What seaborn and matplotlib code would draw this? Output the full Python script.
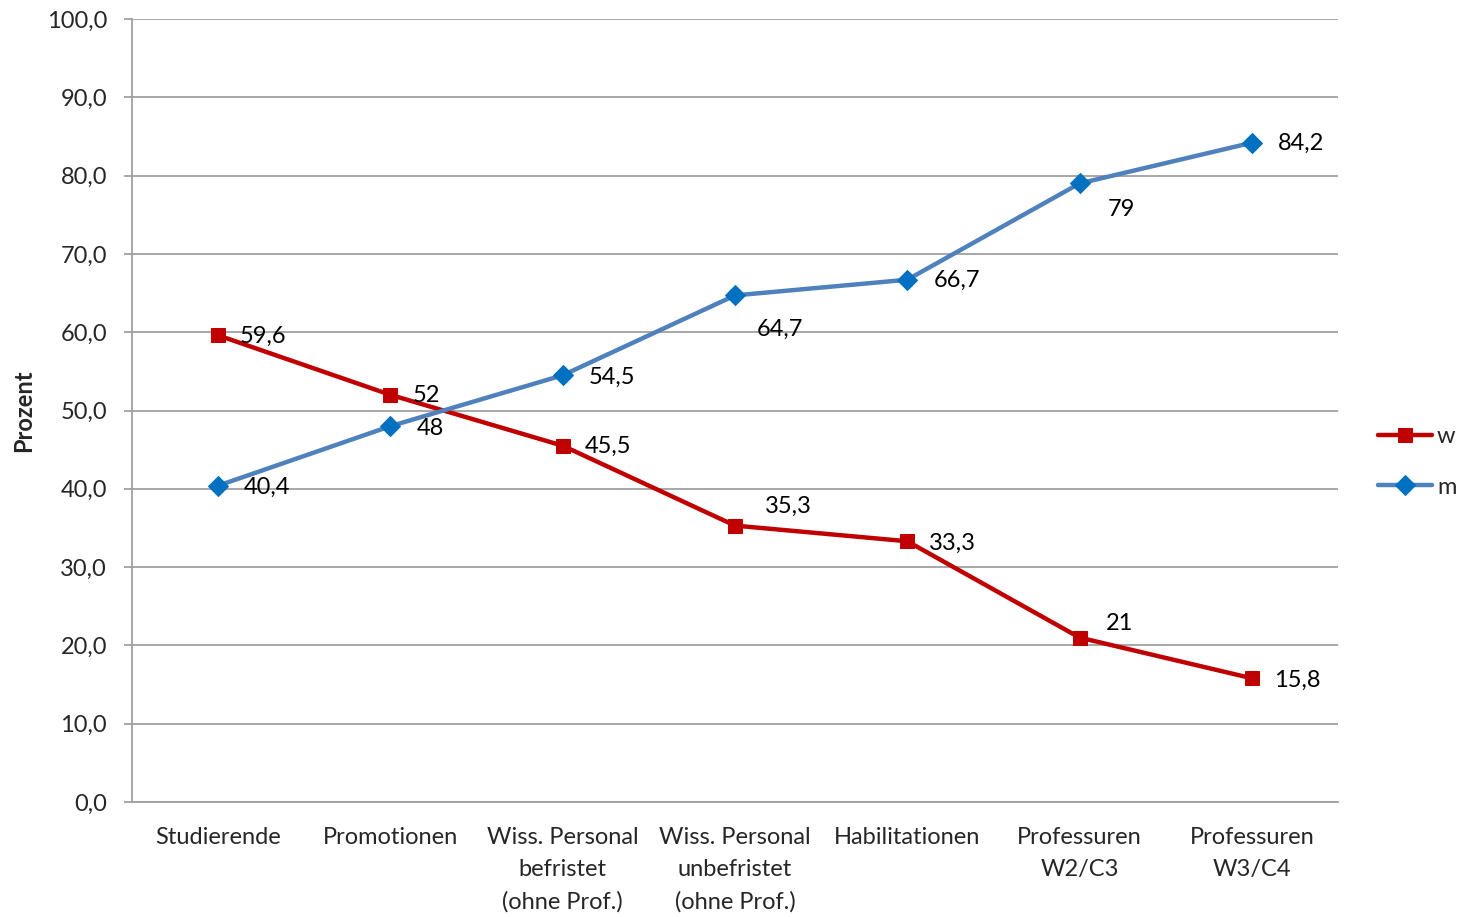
import pandas as pd
import numpy as np
import matplotlib
matplotlib.use("Agg")
import matplotlib.pyplot as plt
from matplotlib.ticker import FuncFormatter, MultipleLocator
import seaborn as sns

# data
kategorien = ["Studierende", "Promotionen", "Wiss. Personal\nbefristet\n(ohne Prof.)",
              "Wiss. Personal\nunbefristet\n(ohne Prof.)", "Habilitationen",
              "Professuren\nW2/C3", "Professuren\nW3/C4"]
werte_w = [59.6, 52, 45.5, 35.3, 33.3, 21, 15.8]
werte_m = [40.4, 48, 54.5, 64.7, 66.7, 79, 84.2]
labels_w = ["59,6", "52", "45,5", "35,3", "33,3", "21", "15,8"]
labels_m = ["40,4", "48", "54,5", "64,7", "66,7", "79", "84,2"]

df = pd.DataFrame({"Kategorie": kategorien, "w": werte_w, "m": werte_m})

sns.set_style("white")
plt.rcParams['font.family'] = ['Lato', 'DejaVu Sans']
fs = 17

fig = plt.figure(figsize=(14.64, 9.17), dpi=100)
ax = fig.add_axes([132/1464, 1 - 802/917, (1338-132)/1464, (802-19)/917])

grid_col = "#A0A0A0"
red = "#C00000"
blue_line = "#4F81BD"
blue_marker = "#0070C0"

sns.lineplot(data=df, x="Kategorie", y="w", ax=ax, color=red, linewidth=3.2,
             marker="s", markersize=10, markerfacecolor=red, markeredgecolor=red,
             label="w", sort=False, zorder=3)
sns.lineplot(data=df, x="Kategorie", y="m", ax=ax, color=blue_line, linewidth=3.2,
             marker="D", markersize=10.5, markerfacecolor=blue_marker, markeredgecolor=blue_marker,
             label="m", sort=False, zorder=3)

# data labels (pixel offsets from point)
off_w = [(22, -1), (22, -1), (22, -1), (30, 19), (22, -2), (26, 14), (22, -2)]
off_m = [(26, -2), (26, -2), (26, -2), (22, -34), (26, -1), (28, -26), (26, -1)]
for i in range(len(kategorien)):
    ax.annotate(labels_w[i], (i, werte_w[i]), xytext=off_w[i], textcoords="offset pixels",
                ha="left", va="center", fontsize=fs, color="black", zorder=4)
    ax.annotate(labels_m[i], (i, werte_m[i]), xytext=off_m[i], textcoords="offset pixels",
                ha="left", va="center", fontsize=fs, color="black", zorder=4)

ax.set_xlim(-0.5, len(kategorien) - 0.5)
ax.set_ylim(0, 100)
ax.yaxis.set_major_locator(MultipleLocator(10))
ax.yaxis.set_major_formatter(FuncFormatter(lambda v, p: f"{v:.1f}".replace(".", ",")))
ax.grid(axis="y", color=grid_col, linewidth=1.3)
ax.grid(axis="x", visible=False)
ax.set_axisbelow(True)

for s in ["top", "right"]:
    ax.spines[s].set_visible(False)
ax.spines["left"].set_color(grid_col)
ax.spines["left"].set_linewidth(1.3)
ax.spines["bottom"].set_color(grid_col)
ax.spines["bottom"].set_linewidth(1.3)

ax.tick_params(axis="y", direction="out", length=6, width=1.3, color=grid_col,
               labelsize=fs, pad=12, left=True)
ax.tick_params(axis="x", length=0, labelsize=fs, pad=18)
for t in ax.get_xticklabels():
    t.set_linespacing(1.63)
    t.set_va("top")

ax.set_xlabel("")
ax.set_ylabel("Prozent", fontsize=fs, fontweight="bold", labelpad=8)

ax.get_legend().remove()
handles, lbls = ax.get_legend_handles_labels()
fig.legend(handles, lbls, loc="center left", bbox_to_anchor=(1378/1464, 1 - 462/917),
           frameon=False, fontsize=fs, handlelength=2.3, handletextpad=0.2,
           labelspacing=1.25, borderaxespad=0, borderpad=0)

fig.savefig("out.png", dpi=100)
